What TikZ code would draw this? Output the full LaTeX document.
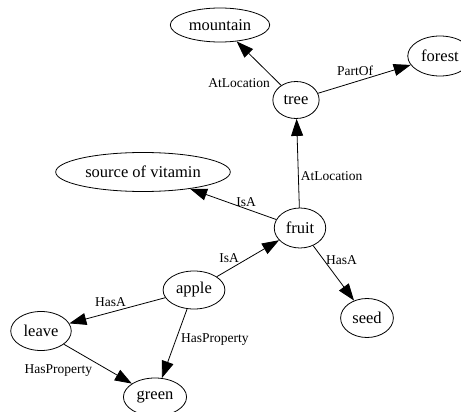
\documentclass[tikz,border=0pt]{standalone}
\usepackage{fontspec}
\setmainfont{Liberation Serif}
\usetikzlibrary{shapes.geometric,arrows.meta}

\begin{document}
\begin{tikzpicture}[x=1pt,y=-1pt,
		concept/.style={ellipse, draw, line width=0.8pt, inner xsep=4pt, minimum height=38pt, font=\fontsize{16.5}{18}\selectfont},
		rel/.style={-{Triangle[length=17pt,width=12pt]}, line width=0.8pt},
		lbl/.style={inner sep=2pt, font=\fontsize{13.5}{15}\selectfont}]
		\clip (0,0) rectangle (461,412);
		\node[concept, minimum height=34pt] (mountain) at (220,25) {mountain};
		\node[concept, minimum height=40pt] (forest) at (440,56) {forest};
		\node[concept, minimum height=37pt] (tree) at (296,100) {tree};
		\node[concept, minimum height=39pt] (vitamin) at (143,172) {source of vitamin};
		\node[concept, minimum height=40pt] (fruit) at (300,228) {fruit};
		\node[concept] (apple) at (194,290) {apple};
		\node[concept, minimum height=39pt] (leave) at (41,331) {leave};
		\node[concept, minimum height=39pt] (seed) at (367,318) {seed};
		\node[concept] (green) at (155,397) {green};
		%\draw[help lines] (0,0) grid[step=50] (461,412);
		\draw[rel] (tree) -- node[lbl, pos=0.2, anchor=north east] {AtLocation} (mountain);
		\draw[rel] (tree) -- node[lbl, pos=0.4, anchor=south, yshift=4pt] {PartOf} (forest);
		\draw[rel] (fruit) -- node[lbl, pos=0.35, anchor=west] {AtLocation} (tree);
		\draw[rel] (fruit) -- node[lbl, pos=0.35, anchor=south] {IsA} (vitamin);
		\draw[rel] (apple) -- node[lbl, pos=0.2, anchor=south, yshift=4pt] {IsA} (fruit);
		\draw[rel] (fruit) -- node[lbl, pos=0.26, anchor=west] {HasA} (seed);
		\draw[rel] (apple) -- node[lbl, pos=0.57, anchor=south, yshift=3pt] {HasA} (leave);
		\draw[rel] (apple) -- node[lbl, pos=0.45, anchor=west, xshift=3pt] {HasProperty} (green);
		\draw[rel] (leave) -- node[lbl, pos=0.45, anchor=north east] {HasProperty} (green);
	\end{tikzpicture}
\end{document}
